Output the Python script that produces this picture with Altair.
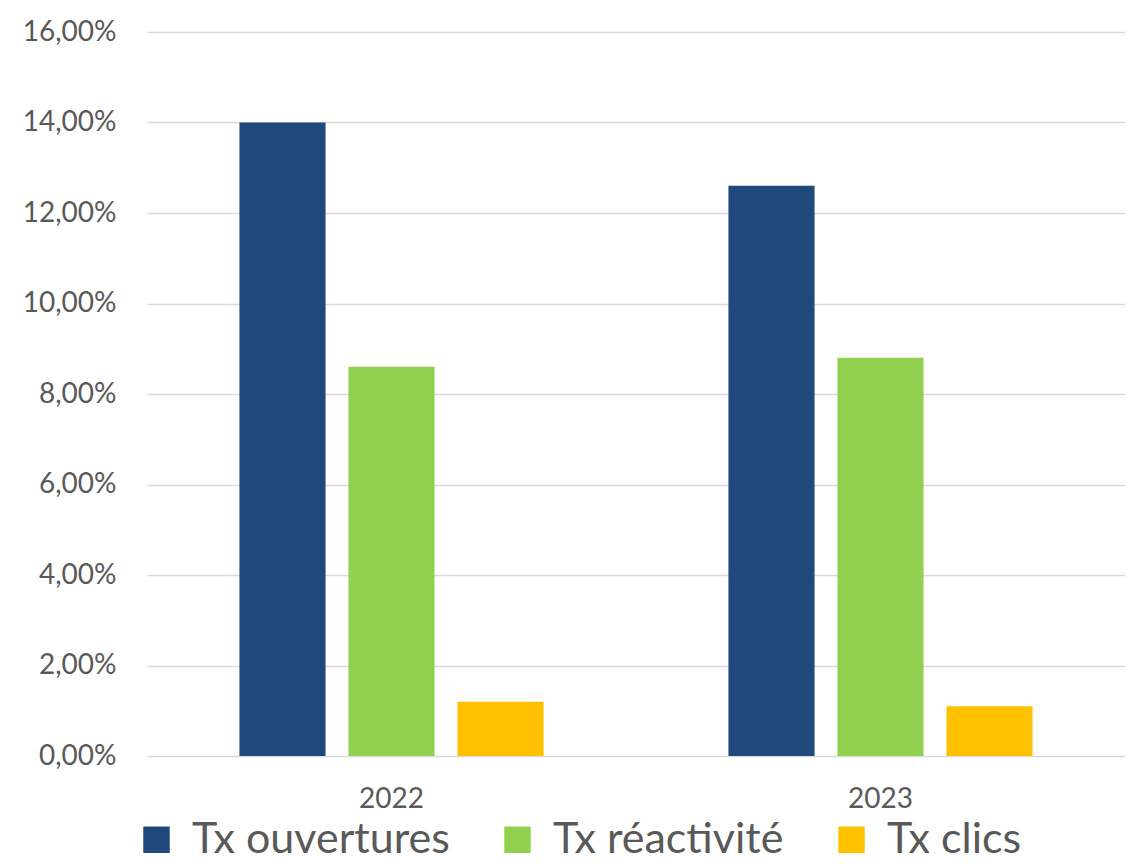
import altair as alt
import pandas as pd

years = ["2022", "2023"]
series = ["Tx ouvertures", "Tx réactivité", "Tx clics"]
tx_ouvertures = [0.140, 0.126]
tx_reactivite = [0.086, 0.088]
tx_clics = [0.012, 0.011]
colors = ["#1F497D", "#92D050", "#FFC000"]

rows = []
for i, y in enumerate(years):
    for s, vals in zip(series, [tx_ouvertures, tx_reactivite, tx_clics]):
        rows.append({"year": y, "series": s, "value": vals[i]})
df = pd.DataFrame(rows)

FONT = "Lato"
TXT = "#595959"

chart = alt.Chart(df).mark_bar().encode(
    x=alt.X("year:N", title=None, sort=years,
            scale=alt.Scale(paddingInner=0, paddingOuter=0),
            axis=alt.Axis(labelAngle=0, labelFont=FONT, labelFontSize=28, labelColor=TXT,
                          labelPadding=29, ticks=False, domain=False)),
    xOffset=alt.XOffset("series:N", sort=series,
                        scale=alt.Scale(paddingInner=0.21, paddingOuter=0.848)),
    y=alt.Y("value:Q", title=None,
            scale=alt.Scale(domain=[0, 0.16], nice=False),
            axis=alt.Axis(format=".2%", values=[0, 0.02, 0.04, 0.06, 0.08, 0.10, 0.12, 0.14, 0.16],
                          labelFont=FONT, labelFontSize=28, labelColor=TXT, labelPadding=31,
                          ticks=False, domain=False, gridColor="#D9D9D9", gridWidth=1.5,
                          labelExpr="replace(datum.label, '.', ',')")),
    color=alt.Color("series:N", sort=series,
                    scale=alt.Scale(domain=series, range=colors),
                    legend=alt.Legend(title=None, orient="none", direction="horizontal",
                                      legendX=-12, legendY=786,
                                      symbolType="square", symbolSize=700, symbolStrokeWidth=0,
                                      labelFont=FONT, labelFontSize=43, labelColor=TXT,
                                      labelLimit=500, labelOffset=14, columnPadding=46)),
).properties(
    width=978, height=724,
    background="white",
    padding={"left": 139, "top": 24, "right": 0, "bottom": 110},
    autosize=alt.AutoSizeParams(type="none"),
).configure_view(stroke=None)

chart.save("out.html", embed_options={"renderer": "svg", "actions": False})
